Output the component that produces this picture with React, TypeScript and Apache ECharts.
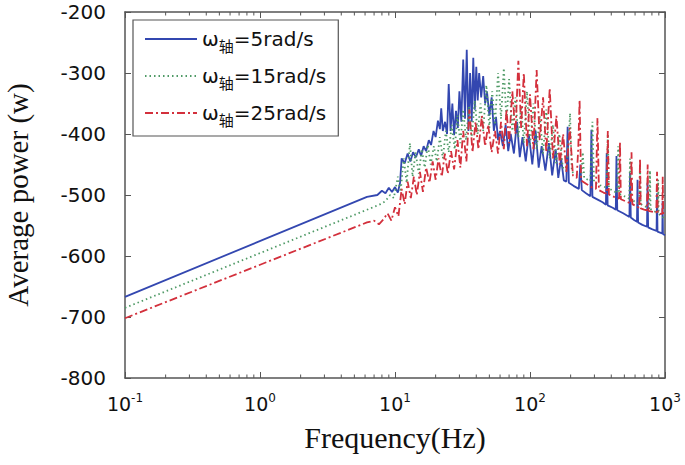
import React, { useEffect, useRef } from "react";
import * as echarts from "echarts";

// ---- data ----
const blueFreq = [0.1, 6.2, 7.4, 8.0, 8.5, 9.0, 9.5, 10.0, 10.5, 10.9, 11.2, 11.8, 12.4, 13.0, 13.6, 14.3, 15.0, 15.6, 16.3, 17.0, 17.8, 18.5, 19.3, 20.0, 20.8, 21.5, 22.0, 22.6, 23.5, 24.3, 25.0, 25.8, 26.6, 27.4, 28.3, 29.2, 30.0, 31.0, 32.0, 33.0, 34.0, 35.0, 36.0, 37.0, 38.0, 39.0, 40.0, 41.0, 42.0, 43.5, 45.0, 46.5, 48.0, 50.0, 52.0, 54.0, 56.0, 58.0, 60.0, 63.0, 66.0, 69.0, 72.0, 76.0, 80.0, 84.0, 88.0, 93.0, 98.0, 104.0, 110.0, 116.0, 122.0, 130.0, 138.0, 146.0, 155.0, 162.0, 170.0, 178.0, 186.0, 190.0, 194.0, 210.0, 230.0, 236.0, 242.0, 260.0, 280.0, 285.0, 290.0, 320.0, 345.0, 365.0, 370.0, 376.0, 410.0, 432.0, 437.0, 443.0, 490.0, 545.0, 551.0, 558.0, 590.0, 620.0, 626.0, 632.0, 680.0, 736.0, 742.0, 750.0, 800.0, 866.0, 873.0, 880.0, 930.0, 955.0, 960.0, 966.0, 1000.0];
const blueValue = [-667, -503, -500, -493, -497, -488, -495, -487, -496, -480, -440, -448, -432, -445, -430, -438, -425, -436, -420, -428, -410, -418, -395, -405, -378, -392, -358, -395, -380, -400, -318, -395, -350, -402, -362, -390, -330, -380, -278, -375, -262, -395, -300, -380, -275, -360, -290, -345, -300, -340, -305, -350, -330, -370, -340, -395, -372, -410, -395, -420, -385, -428, -400, -432, -380, -438, -405, -445, -400, -450, -395, -455, -420, -460, -415, -468, -425, -472, -440, -476, -478, -388, -480, -485, -490, -450, -492, -497, -502, -393, -503, -508, -512, -516, -431, -517, -521, -524, -436, -525, -530, -536, -464, -537, -541, -544, -475, -545, -549, -552, -480, -553, -556, -559, -497, -560, -562, -563, -510, -564, -566];

const greenFreq = [0.1, 6.9, 7.8, 8.5, 9.2, 9.8, 10.5, 11.0, 11.6, 12.2, 12.9, 13.5, 14.2, 15.0, 15.8, 16.6, 17.5, 18.4, 19.4, 20.4, 21.5, 22.6, 23.8, 25.0, 26.3, 27.7, 29.0, 30.5, 32.0, 33.6, 35.3, 37.0, 39.0, 41.0, 43.0, 45.0, 47.5, 50.0, 52.5, 55.0, 58.0, 61.0, 64.0, 67.0, 70.0, 74.0, 78.0, 82.0, 86.0, 90.0, 95.0, 100.0, 106.0, 112.0, 118.0, 125.0, 132.0, 140.0, 148.0, 156.0, 165.0, 175.0, 186.0, 192.0, 198.0, 204.0, 222.0, 240.0, 246.0, 252.0, 280.0, 290.0, 298.0, 330.0, 370.0, 377.0, 384.0, 420.0, 444.0, 450.0, 456.0, 500.0, 543.0, 551.0, 559.0, 600.0, 645.0, 653.0, 661.0, 720.0, 766.0, 774.0, 782.0, 840.0, 882.0, 890.0, 898.0, 950.0, 1000.0];
const greenValue = [-685, -520, -515, -510, -500, -505, -470, -495, -440, -480, -415, -470, -430, -465, -425, -455, -418, -450, -420, -445, -405, -440, -395, -430, -385, -425, -370, -415, -360, -410, -355, -405, -345, -400, -350, -395, -320, -390, -330, -385, -300, -375, -292, -380, -310, -395, -340, -405, -355, -415, -330, -420, -350, -425, -370, -432, -360, -440, -385, -448, -400, -455, -460, -420, -366, -462, -467, -470, -430, -472, -477, -380, -479, -484, -488, -400, -489, -494, -497, -420, -498, -502, -506, -440, -507, -511, -514, -450, -515, -519, -522, -460, -523, -527, -530, -475, -531, -535, -540];

const redFreq = [0.1, 6.2, 7.0, 7.6, 8.2, 8.8, 9.4, 10.0, 10.6, 11.2, 11.8, 12.4, 13.1, 13.8, 14.5, 15.3, 16.1, 17.0, 18.0, 19.0, 20.0, 21.0, 22.2, 23.4, 24.6, 26.0, 27.4, 29.0, 30.5, 32.0, 33.8, 35.6, 37.5, 39.5, 41.5, 44.0, 46.5, 49.0, 52.0, 55.0, 58.0, 61.0, 64.0, 67.0, 70.0, 74.0, 78.0, 82.0, 86.0, 90.0, 95.0, 100.0, 106.0, 112.0, 118.0, 125.0, 132.0, 140.0, 148.0, 157.0, 166.0, 176.0, 186.0, 197.0, 208.0, 222.0, 228.0, 233.0, 239.0, 262.0, 290.0, 308.0, 316.0, 324.0, 350.0, 370.0, 377.0, 384.0, 420.0, 457.0, 464.0, 471.0, 520.0, 557.0, 565.0, 573.0, 620.0, 645.0, 653.0, 661.0, 700.0, 735.0, 744.0, 753.0, 820.0, 862.0, 873.0, 884.0, 930.0, 955.0, 962.0, 970.0, 1000.0];
const redValue = [-702, -545, -542, -548, -540, -530, -542, -520, -535, -490, -515, -478, -505, -470, -500, -462, -495, -455, -480, -445, -475, -440, -470, -432, -465, -428, -458, -410, -455, -395, -445, -360, -430, -380, -425, -370, -420, -385, -430, -395, -432, -380, -425, -360, -415, -330, -400, -280, -390, -300, -420, -335, -425, -295, -410, -340, -430, -325, -440, -370, -450, -400, -462, -390, -468, -472, -420, -344, -476, -482, -488, -490, -374, -492, -496, -498, -395, -499, -503, -506, -413, -507, -511, -514, -430, -515, -519, -521, -440, -522, -524, -525, -450, -526, -528, -529, -462, -530, -531, -531, -470, -532, -533];

const seriesNames = ["5rad/s", "15rad/s", "25rad/s"];
const decadeStarts = [0.1, 1, 10, 100];
const minorMultipliers = [2, 3, 4, 5, 6, 7, 8, 9];
const yTicks = { min: -800, max: -200, interval: 100 };

const pair = (f: number[], v: number[]) => f.map((x, i) => [x, v[i]]);

export default function App() {
  const ref = useRef<HTMLDivElement>(null);
  useEffect(() => {
    if (!ref.current) return;
    const chart = echarts.init(ref.current, undefined, { renderer: "svg" });
    const minorTicks: number[][] = [];
    decadeStarts.forEach((d) =>
      minorMultipliers.forEach((m) => minorTicks.push([d * m, yTicks.min]))
    );
    const axisColor = "#555";
    const sans = "DejaVu Sans, Liberation Sans, Arial, sans-serif";
    const serif = "Liberation Serif, Times New Roman, serif";
    const legendRich = {
      w: { fontSize: 20, fontFamily: sans, color: "#111" },
      s: { fontSize: 15, fontFamily: "Noto Sans CJK SC", color: "#111", padding: [13, 0, 0, 0] },
      t: { fontSize: 20, fontFamily: sans, color: "#111" },
    };
    chart.setOption({
      animation: false,
      backgroundColor: "#fff",
      grid: { left: 125, right: 20, top: 12, bottom: 87, outerBoundsMode: "none", containLabel: false },
      legend: {
        show: true,
        orient: "vertical",
        left: 133,
        top: 20,
        padding: [5, 12, 9, 11],
        itemGap: 9,
        itemWidth: 52,
        itemHeight: 14,
        backgroundColor: "#fff",
        borderColor: "#555",
        borderWidth: 1.2,
        itemStyle: { color: "rgba(0,0,0,0)", borderWidth: 0 },
        data: seriesNames,
        formatter: (name: string) => `{w|ω}{s|轴}{t|=${name}}`,
        textStyle: { rich: legendRich, lineHeight: 28 },
      },
      xAxis: [
        {
          type: "log",
          logBase: 10,
          min: 0.1,
          max: 1000,
          name: "Frequency(Hz)",
          nameLocation: "middle",
          nameGap: 44,
          nameTextStyle: { fontFamily: serif, fontSize: 30, color: "#111" },
          axisLine: { lineStyle: { color: axisColor, width: 1.5 } },
          axisTick: { inside: true, length: 6, lineStyle: { color: axisColor } },
          splitLine: { show: false },
          axisLabel: {
            margin: 14,
            formatter: (v: number) => `{b|10}{s|${Math.round(Math.log10(v))}}`,
            rich: {
              b: { fontSize: 19, fontFamily: sans, color: "#111" },
              s: { fontSize: 12, fontFamily: sans, color: "#111", padding: [0, 0, 11, 0] },
            },
          },
        },
        {
          type: "log",
          logBase: 10,
          min: 0.1,
          max: 1000,
          position: "top",
          axisLine: { show: true, lineStyle: { color: axisColor, width: 1.5 } },
          axisTick: { inside: true, length: 6, lineStyle: { color: axisColor } },
          axisLabel: { show: false },
          splitLine: { show: false },
        },
      ],
      yAxis: [
        {
          type: "value",
          min: yTicks.min,
          max: yTicks.max,
          interval: yTicks.interval,
          name: "Average power (w)",
          nameLocation: "middle",
          nameGap: 92,
          nameTextStyle: { fontFamily: serif, fontSize: 29, color: "#111", lineHeight: 30 },
          axisLine: { show: true, lineStyle: { color: axisColor, width: 1.5 } },
          axisTick: { show: true, inside: true, length: 6, lineStyle: { color: axisColor } },
          splitLine: { show: false },
          axisLabel: { margin: 19, fontSize: 20, fontFamily: sans, color: "#111" },
        },
        {
          type: "value",
          min: yTicks.min,
          max: yTicks.max,
          interval: yTicks.interval,
          position: "right",
          axisLine: { show: true, lineStyle: { color: axisColor, width: 1.5 } },
          axisTick: { show: true, inside: true, length: 6, lineStyle: { color: axisColor } },
          axisLabel: { show: false },
          splitLine: { show: false },
        },
      ],
      series: [
        {
          name: seriesNames[0],
          type: "line",
          data: pair(blueFreq, blueValue),
          showSymbol: false,
          symbol: "none",
          color: "#3347b0",
          lineStyle: { width: 1.8, color: "#3347b0", type: "solid" },
          z: 3,
        },
        {
          name: seriesNames[1],
          type: "line",
          data: pair(greenFreq, greenValue),
          showSymbol: false,
          symbol: "none",
          color: "#4f9a66",
          lineStyle: { width: 1.8, color: "#4f9a66", type: [1.5, 3] },
          z: 4,
        },
        {
          name: seriesNames[2],
          type: "line",
          data: pair(redFreq, redValue),
          showSymbol: false,
          symbol: "none",
          color: "#d3303c",
          lineStyle: { width: 1.8, color: "#d3303c", type: [8, 3, 2, 3] },
          z: 5,
        },
        {
          type: "custom",
          silent: true,
          data: minorTicks,
          z: 6,
          renderItem: (params: any, api: any) => {
            const f = api.value(0);
            const b = api.coord([f, yTicks.min]);
            const t = api.coord([f, yTicks.max]);
            const st = { stroke: axisColor, lineWidth: 1 };
            return {
              type: "group",
              children: [
                { type: "line", shape: { x1: b[0], y1: b[1], x2: b[0], y2: b[1] - 3.5 }, style: st },
                { type: "line", shape: { x1: t[0], y1: t[1], x2: t[0], y2: t[1] + 3.5 }, style: st },
              ],
            };
          },
        },
      ],
    });
    return () => chart.dispose();
  }, []);
  return (
    <div
      ref={ref}
      style={{ position: "absolute", left: 0, top: 0, width: 685, height: 465 }}
    />
  );
}
